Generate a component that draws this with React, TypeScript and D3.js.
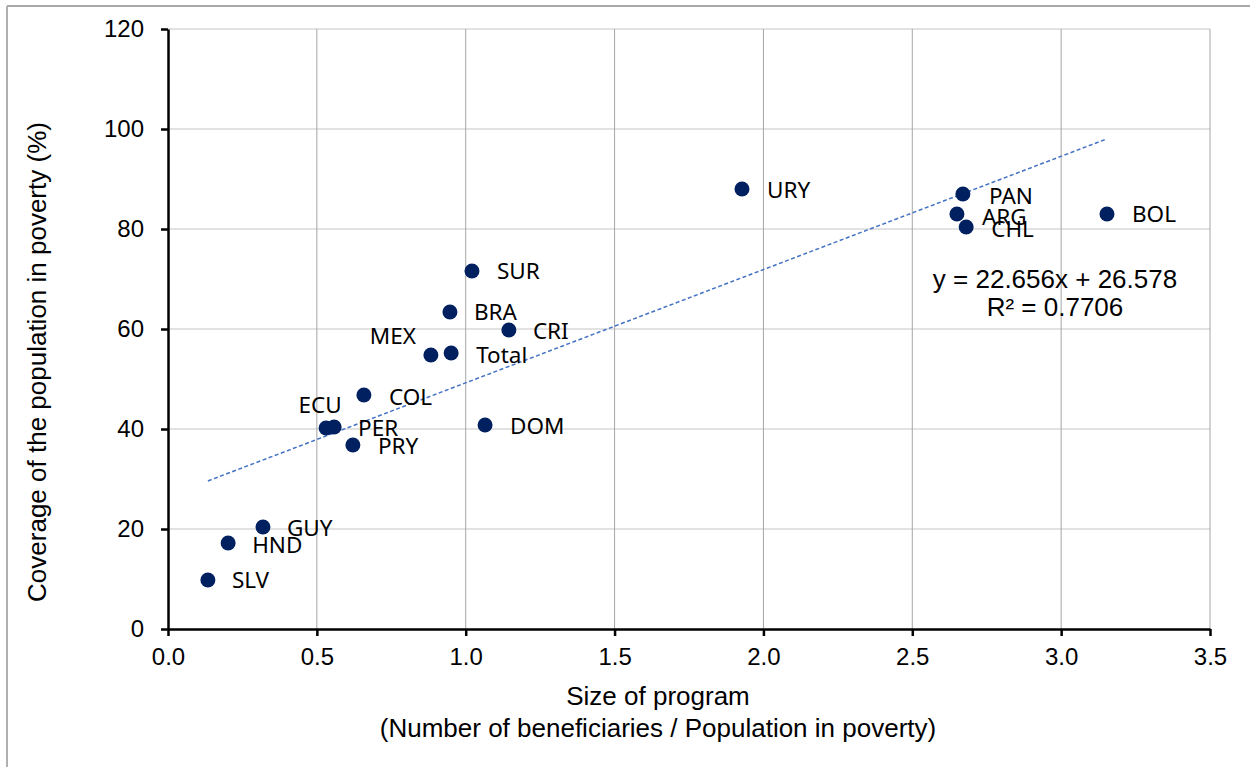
import * as d3 from "d3";
import { useEffect, useRef } from "react";

const width = 1250,
  height = 767,
  marginTop = 29,
  marginRight = 40,
  marginBottom = 138,
  marginLeft = 168;

// countries / points
const codes = ["URY", "PAN", "ARG", "CHL", "BOL", "SUR", "BRA", "CRI", "MEX", "Total", "COL", "ECU", "PER", "PRY", "DOM", "GUY", "HND", "SLV"];
const sizeOfProgram = [1.928, 2.67, 2.65, 2.681, 3.154, 1.021, 0.947, 1.145, 0.883, 0.951, 0.658, 0.531, 0.558, 0.621, 1.065, 0.319, 0.202, 0.134];
const coverage = [88.0, 87.0, 83.0, 80.4, 83.0, 71.6, 63.4, 59.8, 54.8, 55.2, 46.8, 40.2, 40.4, 36.8, 40.8, 20.4, 17.2, 9.8];

// label placement relative to the dot (px)
const labelDx = [25, 26, 25, 25, 25, 25, 24, 24, -15, 25, 25, -6, 24, 25, 25, 24, 24, 24];
const labelDy = [1, 2, 3, 2, 0, 0, 0, 1, -19, 2, 2, -23, 1, 1, 1, 1, 2, 0];
const labelAnchor = ["start", "start", "start", "start", "start", "start", "start", "start", "end", "start", "start", "middle", "start", "start", "start", "start", "start", "start"];

const xTicks = [0, 0.5, 1, 1.5, 2, 2.5, 3, 3.5];
const yTicks = [0, 20, 40, 60, 80, 100, 120];

const slope = 22.656,
  intercept = 26.578;
const eqText = "y = 22.656x + 26.578";
const r2Text = "R² = 0.7706";

export default function App() {
  const ref = useRef<SVGSVGElement | null>(null);

  useEffect(() => {
    if (!ref.current) return;
    const svg = d3.select(ref.current);
    svg.selectAll("*").remove();

    const x = d3.scaleLinear([0, 3.5], [marginLeft, width - marginRight]);
    const y = d3.scaleLinear([0, 120], [height - marginBottom, marginTop]);

    // outer frame (top + left only visible)
    svg.append("line").attr("x1", 7).attr("x2", width).attr("y1", 6).attr("y2", 6).attr("stroke", "#8c8c8c").attr("stroke-width", 1.5);
    svg.append("line").attr("x1", 7).attr("x2", 7).attr("y1", 6).attr("y2", height).attr("stroke", "#b0b0b0").attr("stroke-width", 2);

    // grid
    svg
      .append("g")
      .selectAll("line")
      .data(yTicks.filter((d) => d > 0))
      .join("line")
      .attr("x1", marginLeft)
      .attr("x2", x(3.5))
      .attr("y1", (d) => y(d))
      .attr("y2", (d) => y(d))
      .attr("stroke", "#d9d9d9")
      .attr("stroke-width", 1.5);
    svg
      .append("g")
      .selectAll("line")
      .data(xTicks.filter((d) => d > 0))
      .join("line")
      .attr("x1", (d) => x(d))
      .attr("x2", (d) => x(d))
      .attr("y1", y(120))
      .attr("y2", y(0))
      .attr("stroke", "#a6a6a6")
      .attr("stroke-width", 1);

    // axes
    const font = "'Liberation Sans', Arial, sans-serif";
    svg
      .append("g")
      .attr("transform", `translate(0,${y(0)})`)
      .call(d3.axisBottom(x).tickValues(xTicks).tickFormat(d3.format(".1f")).tickSize(7).tickSizeOuter(0).tickPadding(12))
      .call((g) => g.select(".domain").attr("stroke", "#000").attr("stroke-width", 2.5))
      .call((g) => g.selectAll(".tick line").attr("stroke-width", 2.5))
      .call((g) => g.selectAll(".tick text").attr("font-family", font).attr("font-size", 24).attr("fill", "#000"));
    svg
      .append("g")
      .attr("transform", `translate(${marginLeft},0)`)
      .call(d3.axisLeft(y).tickValues(yTicks).tickSize(7).tickSizeOuter(0).tickPadding(17))
      .call((g) => g.select(".domain").attr("stroke", "#000").attr("stroke-width", 2.5))
      .call((g) => g.selectAll(".tick line").attr("stroke-width", 2.5))
      .call((g) => g.selectAll(".tick text").attr("font-family", font).attr("font-size", 24).attr("fill", "#000"));

    // axis titles
    svg
      .append("text")
      .attr("x", 658)
      .attr("y", 705)
      .attr("text-anchor", "middle")
      .attr("font-family", font)
      .attr("font-size", 26)
      .text("Size of program");
    svg
      .append("text")
      .attr("x", 658)
      .attr("y", 737)
      .attr("text-anchor", "middle")
      .attr("font-family", font)
      .attr("font-size", 26)
      .text("(Number of beneficiaries / Population in poverty)");
    svg
      .append("text")
      .attr("transform", `translate(46,362) rotate(-90)`)
      .attr("text-anchor", "middle")
      .attr("font-family", font)
      .attr("font-size", 26)
      .text("Coverage of the population in poverty (%)");

    // trendline
    const xMin = d3.min(sizeOfProgram) as number,
      xMax = d3.max(sizeOfProgram) as number;
    const line = d3
      .line<number>()
      .x((d) => x(d))
      .y((d) => y(slope * d + intercept));
    svg
      .append("path")
      .attr("fill", "none")
      .attr("stroke", "#4472C4")
      .attr("stroke-width", 1.5)
      .attr("stroke-dasharray", "4,2.5")
      .attr("d", line([xMin, xMax]));

    // points
    svg
      .append("g")
      .selectAll("circle")
      .data(codes)
      .join("circle")
      .attr("cx", (_, i) => x(sizeOfProgram[i]))
      .attr("cy", (_, i) => y(coverage[i]))
      .attr("r", 7.5)
      .attr("fill", "#002060");

    // labels
    svg
      .append("g")
      .selectAll("text")
      .data(codes)
      .join("text")
      .attr("x", (_, i) => x(sizeOfProgram[i]) + labelDx[i])
      .attr("y", (_, i) => y(coverage[i]) + labelDy[i])
      .attr("dy", "0.35em")
      .attr("text-anchor", (_, i) => labelAnchor[i])
      .attr("font-family", "'Noto Sans', 'Open Sans', sans-serif")
      .attr("font-size", 22.5)
      .attr("fill", "#000")
      .text((d) => d);

    // equation
    svg
      .append("text")
      .attr("x", 1055)
      .attr("y", 288)
      .attr("text-anchor", "middle")
      .attr("font-family", font)
      .attr("font-size", 26)
      .text(eqText);
    svg
      .append("text")
      .attr("x", 1055)
      .attr("y", 316)
      .attr("text-anchor", "middle")
      .attr("font-family", font)
      .attr("font-size", 26)
      .text(r2Text);
  }, []);

  return (
    <svg
      ref={ref}
      width={width}
      height={height}
      viewBox={`0 0 ${width} ${height}`}
      style={{ position: "absolute", left: 0, top: 0, background: "#fff" }}
    />
  );
}
